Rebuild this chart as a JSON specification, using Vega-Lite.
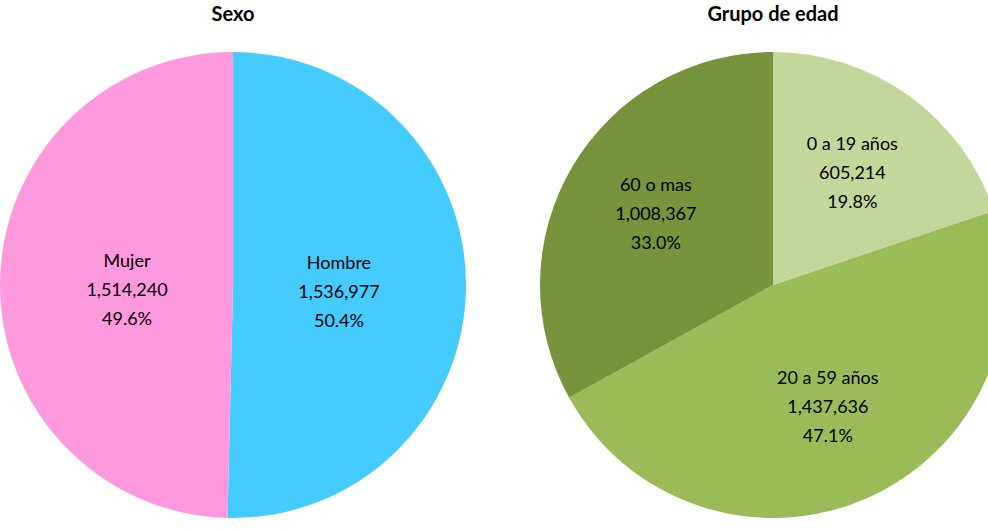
{
  "$schema": "https://vega.github.io/schema/vega-lite/v6.json",
  "padding": {"left": 0, "top": 5, "right": 0, "bottom": 0},
  "autosize": {"type": "pad"},
  "background": "white",
  "spacing": 74,
  "resolve": {"scale": {"color": "independent", "theta": "independent"}},
  "config": {
    "view": {"stroke": null},
    "title": {"font": "Lato", "fontSize": 20, "fontWeight": "bold", "color": "#000000", "offset": 14},
    "text": {"font": "Lato"}
  },
  "hconcat": [
    {
      "title": "Sexo",
      "width": 466,
      "height": 492,
      "data": {"values": [
        {"categoria": "Hombre", "poblacion": 1536977, "etiqueta": "Hombre\n1,536,977\n50.4%", "orden": 1},
        {"categoria": "Mujer", "poblacion": 1514240, "etiqueta": "Mujer\n1,514,240\n49.6%", "orden": 2}
      ]},
      "encoding": {
        "theta": {"field": "poblacion", "type": "quantitative", "stack": true},
        "order": {"field": "orden", "type": "quantitative"}
      },
      "layer": [
        {
          "mark": {"type": "arc", "outerRadius": 233},
          "encoding": {
            "color": {"field": "categoria", "type": "nominal", "legend": null,
              "scale": {"domain": ["Hombre", "Mujer"], "range": ["#44CCFF", "#FF99DD"]}}
          }
        },
        {
          "mark": {"type": "text", "radius": 106, "dy": -22, "fontSize": 18, "lineHeight": 29, "lineBreak": "\n", "color": "#000000", "align": "center", "baseline": "middle"},
          "encoding": {"text": {"field": "etiqueta", "type": "nominal"}}
        }
      ]
    },
    {
      "title": "Grupo de edad",
      "width": 466,
      "height": 492,
      "data": {"values": [
        {"categoria": "0 a 19 años", "poblacion": 605214, "etiqueta": "0 a 19 años\n605,214\n19.8%", "orden": 1},
        {"categoria": "20 a 59 años", "poblacion": 1437636, "etiqueta": "20 a 59 años\n1,437,636\n47.1%", "orden": 2},
        {"categoria": "60 o mas", "poblacion": 1008367, "etiqueta": "60 o mas\n1,008,367\n33.0%", "orden": 3}
      ]},
      "encoding": {
        "theta": {"field": "poblacion", "type": "quantitative", "stack": true},
        "order": {"field": "orden", "type": "quantitative"}
      },
      "layer": [
        {
          "mark": {"type": "arc", "outerRadius": 233},
          "encoding": {
            "color": {"field": "categoria", "type": "nominal", "legend": null,
              "scale": {"domain": ["0 a 19 años", "20 a 59 años", "60 o mas"], "range": ["#C4D79B", "#9BBB59", "#77933C"]}}
          }
        },
        {
          "mark": {"type": "text", "radius": 136, "dy": -30, "fontSize": 18, "lineHeight": 29, "lineBreak": "\n", "color": "#000000", "align": "center", "baseline": "middle"},
          "encoding": {"text": {"field": "etiqueta", "type": "nominal"}}
        }
      ]
    }
  ]
}
